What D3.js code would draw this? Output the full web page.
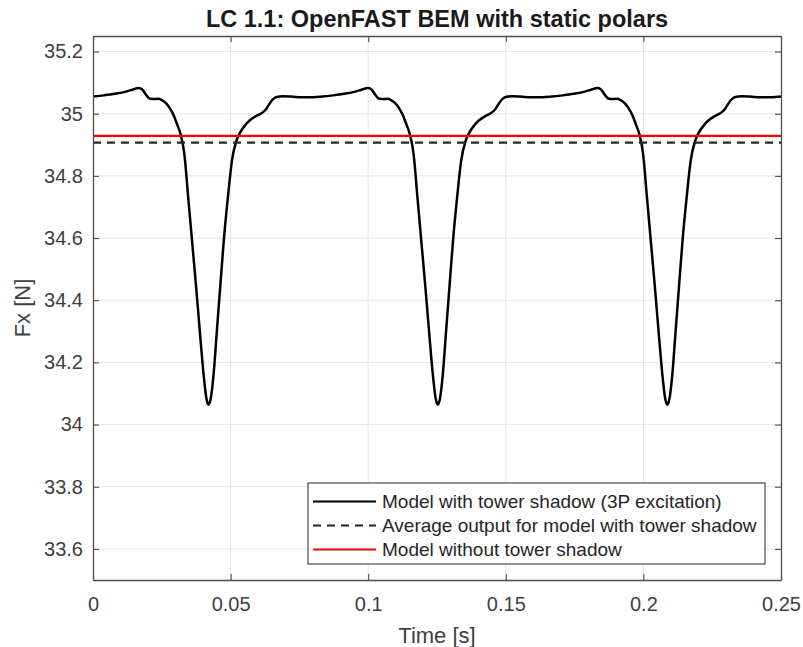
<!DOCTYPE html>
<html>
<head>
<meta charset="utf-8">
<script src="https://cdn.jsdelivr.net/npm/d3@7"></script>
<style>
  html, body { margin: 0; padding: 0; background: #fff; }
  svg { display: block; font-family: Arial, "Liberation Sans", Helvetica, sans-serif; }
</style>
</head>
<body>
<div id="chart"></div>
<script>
// LC 1.1 — OpenFAST BEM with static polars, rotor thrust Fx over 0.25 s

// time [s] for the tower-shadow run (three blade passages)
const timeValues = [
  0.0000, 0.0040, 0.0080, 0.0120, 0.0145, 0.0165, 0.0178, 0.0192, 0.0205, 0.0220,
  0.0237, 0.0250, 0.0265, 0.0279, 0.0293, 0.0306, 0.0318, 0.0332, 0.0346, 0.0360,
  0.0375, 0.0390, 0.0402, 0.0412, 0.0420, 0.0428, 0.0438, 0.0450, 0.0462, 0.0476,
  0.0490, 0.0505, 0.0520, 0.0535, 0.0552, 0.0570, 0.0588, 0.0605, 0.0618, 0.0630,
  0.0640, 0.0652, 0.0667, 0.0690, 0.0720, 0.0760, 0.0800,
  0.0833, 0.0873, 0.0913, 0.0953, 0.0978, 0.0998, 0.1011, 0.1025, 0.1038, 0.1053,
  0.1070, 0.1083, 0.1098, 0.1112, 0.1126, 0.1139, 0.1151, 0.1165, 0.1179, 0.1193,
  0.1208, 0.1223, 0.1235, 0.1245, 0.1253, 0.1261, 0.1271, 0.1283, 0.1295, 0.1309,
  0.1323, 0.1338, 0.1353, 0.1368, 0.1385, 0.1403, 0.1421, 0.1438, 0.1451, 0.1463,
  0.1473, 0.1485, 0.1500, 0.1523, 0.1553, 0.1593, 0.1633,
  0.1667, 0.1707, 0.1747, 0.1787, 0.1812, 0.1832, 0.1845, 0.1859, 0.1872, 0.1887,
  0.1904, 0.1917, 0.1932, 0.1946, 0.1960, 0.1973, 0.1985, 0.1999, 0.2013, 0.2027,
  0.2042, 0.2057, 0.2069, 0.2079, 0.2087, 0.2095, 0.2105, 0.2117, 0.2129, 0.2143,
  0.2157, 0.2172, 0.2187, 0.2202, 0.2219, 0.2237, 0.2255, 0.2272, 0.2285, 0.2297,
  0.2307, 0.2319, 0.2334, 0.2357, 0.2387, 0.2427, 0.2467, 0.2500
];

// Fx [N] with tower shadow (3P excitation)
const fxShadow = [
  35.055, 35.059, 35.064, 35.071, 35.078, 35.083, 35.079, 35.062, 35.049, 35.047,
  35.048, 35.044, 35.034, 35.018, 34.995, 34.965, 34.935, 34.870, 34.730, 34.590,
  34.440, 34.280, 34.160, 34.085, 34.064, 34.085, 34.160, 34.300, 34.440, 34.600,
  34.730, 34.850, 34.910, 34.940, 34.962, 34.979, 34.990, 34.998, 35.005, 35.016,
  35.030, 35.045, 35.054, 35.056, 35.055, 35.053, 35.053,
  35.055, 35.059, 35.064, 35.071, 35.078, 35.083, 35.079, 35.062, 35.049, 35.047,
  35.048, 35.044, 35.034, 35.018, 34.995, 34.965, 34.935, 34.870, 34.730, 34.590,
  34.440, 34.280, 34.160, 34.085, 34.064, 34.085, 34.160, 34.300, 34.440, 34.600,
  34.730, 34.850, 34.910, 34.940, 34.962, 34.979, 34.990, 34.998, 35.005, 35.016,
  35.030, 35.045, 35.054, 35.056, 35.055, 35.053, 35.053,
  35.055, 35.059, 35.064, 35.071, 35.078, 35.083, 35.079, 35.062, 35.049, 35.047,
  35.048, 35.044, 35.034, 35.018, 34.995, 34.965, 34.935, 34.870, 34.730, 34.590,
  34.440, 34.280, 34.160, 34.085, 34.064, 34.085, 34.160, 34.300, 34.440, 34.600,
  34.730, 34.850, 34.910, 34.940, 34.962, 34.979, 34.990, 34.998, 35.005, 35.016,
  35.030, 35.045, 35.054, 35.056, 35.055, 35.053, 35.053, 35.055
];

const fxAverage = 34.907;   // mean of the tower-shadow run
const fxNoShadow = 34.929;  // model without tower shadow

const xTicks = [0, 0.05, 0.1, 0.15, 0.2, 0.25];
const xTickLabels = ['0', '0.05', '0.1', '0.15', '0.2', '0.25'];
const yTicks = [33.6, 33.8, 34, 34.2, 34.4, 34.6, 34.8, 35, 35.2];
const yTickLabels = ['33.6', '33.8', '34', '34.2', '34.4', '34.6', '34.8', '35', '35.2'];

const legendLabels = [
  'Model with tower shadow (3P excitation)',
  'Average output for model with tower shadow',
  'Model without tower shadow'
];

(function () {
  const width = 803, height = 647;
  const margin = { top: 36, right: 22, bottom: 67, left: 93 };
  const w = width - margin.left - margin.right;
  const h = height - margin.top - margin.bottom;

  const axisColor = '#4d4d4d';
  const textColor = '#404040';

  const svg = d3.select('#chart').append('svg')
    .attr('width', width)
    .attr('height', height);

  const g = svg.append('g')
    .attr('transform', `translate(${margin.left},${margin.top})`);

  const x = d3.scaleLinear().domain([0, 0.25]).range([0, w]);
  const y = d3.scaleLinear().domain([33.5, 35.25]).range([h, 0]);

  // grid
  const grid = g.append('g').attr('class', 'grid');
  grid.selectAll('line.gx')
    .data(xTicks.slice(1, -1))
    .enter().append('line')
    .attr('x1', d => x(d)).attr('x2', d => x(d))
    .attr('y1', 0).attr('y2', h)
    .attr('stroke', '#e6e6e6').attr('stroke-width', 1);
  grid.selectAll('line.gy')
    .data(yTicks)
    .enter().append('line')
    .attr('x1', 0).attr('x2', w)
    .attr('y1', d => y(d)).attr('y2', d => y(d))
    .attr('stroke', '#e6e6e6').attr('stroke-width', 1);

  // data lines
  const line = d3.line()
    .x((d, i) => x(timeValues[i]))
    .y(d => y(d))
    .curve(d3.curveMonotoneX);

  g.append('path')
    .datum(fxShadow)
    .attr('d', line)
    .attr('fill', 'none')
    .attr('stroke', '#000')
    .attr('stroke-width', 2.5)
    .attr('stroke-linejoin', 'round');

  g.append('line')
    .attr('x1', x(0)).attr('x2', x(0.25))
    .attr('y1', y(fxAverage)).attr('y2', y(fxAverage))
    .attr('stroke', '#262626')
    .attr('stroke-width', 2.4)
    .attr('stroke-dasharray', '8,6');

  g.append('line')
    .attr('x1', x(0)).attr('x2', x(0.25))
    .attr('y1', y(fxNoShadow)).attr('y2', y(fxNoShadow))
    .attr('stroke', '#ff0000')
    .attr('stroke-width', 2.3);

  // axes (inward ticks on all four sides)
  const tickFont = '20px';
  const labelFont = '22px';
  const styleAxis = sel => {
    sel.select('.domain').attr('stroke', axisColor).attr('stroke-width', 1.3);
    sel.selectAll('.tick line').attr('stroke', axisColor).attr('stroke-width', 1.1);
    sel.selectAll('.tick text').attr('fill', textColor).style('font-size', tickFont);
  };

  g.append('g')
    .attr('transform', `translate(0,${h})`)
    .call(d3.axisBottom(x).tickValues(xTicks).tickSize(-6).tickSizeOuter(0)
      .tickPadding(17).tickFormat((d, i) => xTickLabels[i]))
    .call(styleAxis);

  g.append('g')
    .call(d3.axisTop(x).tickValues(xTicks).tickSize(-6).tickSizeOuter(0).tickFormat(''))
    .call(styleAxis);

  g.append('g')
    .call(d3.axisLeft(y).tickValues(yTicks).tickSize(-6).tickSizeOuter(0)
      .tickPadding(10).tickFormat((d, i) => yTickLabels[i]))
    .call(styleAxis);

  g.append('g')
    .attr('transform', `translate(${w},0)`)
    .call(d3.axisRight(y).tickValues(yTicks).tickSize(-6).tickSizeOuter(0).tickFormat(''))
    .call(styleAxis);

  // title and axis labels
  svg.append('text')
    .attr('x', margin.left + w / 2)
    .attr('y', 27)
    .attr('text-anchor', 'middle')
    .attr('fill', '#1a1a1a')
    .style('font-size', '23.5px')
    .style('font-weight', 'bold')
    .text('LC 1.1: OpenFAST BEM with static polars');

  svg.append('text')
    .attr('x', margin.left + w / 2)
    .attr('y', 643)
    .attr('text-anchor', 'middle')
    .attr('fill', textColor)
    .style('font-size', labelFont)
    .text('Time [s]');

  svg.append('text')
    .attr('transform', `translate(30,${margin.top + h / 2}) rotate(-90)`)
    .attr('text-anchor', 'middle')
    .attr('fill', textColor)
    .style('font-size', labelFont)
    .text('Fx [N]');

  // legend
  const lg = svg.append('g').attr('transform', 'translate(308,483)');
  lg.append('rect')
    .attr('width', 457).attr('height', 81)
    .attr('fill', '#fff')
    .attr('stroke', '#262626').attr('stroke-width', 1);

  const legendStyles = [
    { color: '#000', dash: null },
    { color: '#262626', dash: '8,6' },
    { color: '#ff0000', dash: null }
  ];

  legendLabels.forEach((label, i) => {
    const ry = 18.5 + i * 24;
    lg.append('line')
      .attr('x1', 5).attr('x2', 68)
      .attr('y1', ry).attr('y2', ry)
      .attr('stroke', legendStyles[i].color)
      .attr('stroke-width', 2.2)
      .attr('stroke-dasharray', legendStyles[i].dash);
    lg.append('text')
      .attr('x', 74)
      .attr('y', ry)
      .attr('dy', '0.35em')
      .attr('fill', '#262626')
      .style('font-size', '19px')
      .text(label);
  });
})();
</script>
</body>
</html>
